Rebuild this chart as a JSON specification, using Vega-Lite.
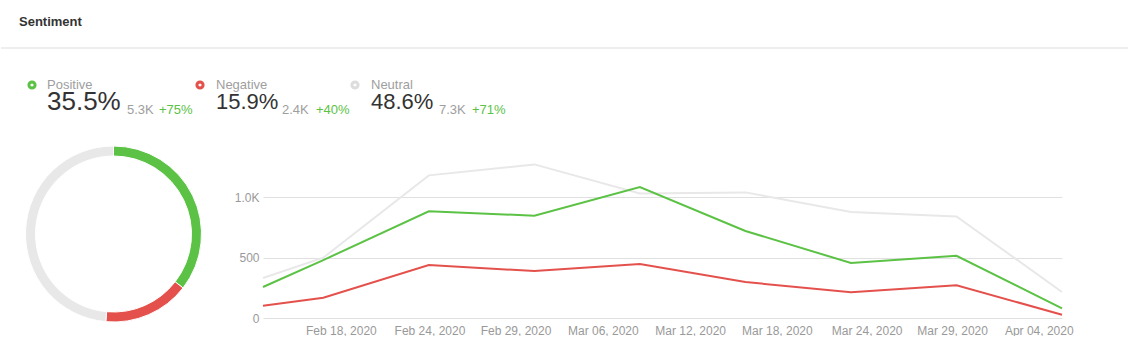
{
  "$schema": "https://vega.github.io/schema/vega-lite/v6.json",
  "padding": 0,
  "background": "#ffffff",
  "spacing": 0,
  "config": {"view": {"stroke": null}, "font": "Liberation Sans"},
  "datasets": {
    "summary": [
      {"sentiment": "Positive", "rank": 1, "pct": 35.5, "share": "35.5%", "count": "5.3K", "change": "+75%"},
      {"sentiment": "Negative", "rank": 2, "pct": 15.9, "share": "15.9%", "count": "2.4K", "change": "+40%"},
      {"sentiment": "Neutral", "rank": 3, "pct": 48.6, "share": "48.6%", "count": "7.3K", "change": "+71%"}
    ],
    "series": [
      {"date": "2020-02-13", "sentiment": "Neutral", "count": 331},
      {"date": "2020-02-17", "sentiment": "Neutral", "count": 500},
      {"date": "2020-02-24", "sentiment": "Neutral", "count": 1182},
      {"date": "2020-03-02", "sentiment": "Neutral", "count": 1273},
      {"date": "2020-03-09", "sentiment": "Neutral", "count": 1032},
      {"date": "2020-03-16", "sentiment": "Neutral", "count": 1041},
      {"date": "2020-03-23", "sentiment": "Neutral", "count": 878},
      {"date": "2020-03-30", "sentiment": "Neutral", "count": 842},
      {"date": "2020-04-06", "sentiment": "Neutral", "count": 215},
      {"date": "2020-02-13", "sentiment": "Positive", "count": 257},
      {"date": "2020-02-17", "sentiment": "Positive", "count": 480},
      {"date": "2020-02-24", "sentiment": "Positive", "count": 884},
      {"date": "2020-03-02", "sentiment": "Positive", "count": 848},
      {"date": "2020-03-09", "sentiment": "Positive", "count": 1085},
      {"date": "2020-03-16", "sentiment": "Positive", "count": 721},
      {"date": "2020-03-23", "sentiment": "Positive", "count": 456},
      {"date": "2020-03-30", "sentiment": "Positive", "count": 516},
      {"date": "2020-04-06", "sentiment": "Positive", "count": 80},
      {"date": "2020-02-13", "sentiment": "Negative", "count": 102},
      {"date": "2020-02-17", "sentiment": "Negative", "count": 168},
      {"date": "2020-02-24", "sentiment": "Negative", "count": 439},
      {"date": "2020-03-02", "sentiment": "Negative", "count": 389},
      {"date": "2020-03-09", "sentiment": "Negative", "count": 447},
      {"date": "2020-03-16", "sentiment": "Negative", "count": 298},
      {"date": "2020-03-23", "sentiment": "Negative", "count": 213},
      {"date": "2020-03-30", "sentiment": "Negative", "count": 271},
      {"date": "2020-04-06", "sentiment": "Negative", "count": 27}
    ]
  },
  "vconcat": [
    {
      "width": 1128,
      "height": 48,
      "data": {"values": [{"title": "Sentiment"}]},
      "layer": [
        {
          "mark": {"type": "text", "align": "left", "baseline": "alphabetic", "x": 18, "y": 26, "fontSize": 13, "fontWeight": "bold", "color": "#333333"},
          "encoding": {"text": {"field": "title"}}
        },
        {
          "mark": {"type": "rule", "color": "#dddddd", "strokeWidth": 1},
          "encoding": {"y": {"datum": 0, "type": "quantitative", "scale": {"domain": [0, 1]}, "axis": null}}
        }
      ]
    },
    {
      "hconcat": [
        {
          "width": 169, "height": 87.5,
          "data": {"name": "summary"},
          "transform": [{"filter": "datum.sentiment === 'Positive'"}],
          "layer": [
            {"mark": {"type": "point", "shape": "circle", "filled": false, "size": 38, "strokeWidth": 3, "color": "#5bc245", "opacity": 1, "x": 31, "y": 36}, "encoding": {}},
            {"mark": {"type": "text", "align": "left", "baseline": "alphabetic", "x": 46, "y": 40, "fontSize": 13, "color": "#9e9e9e"}, "encoding": {"text": {"field": "sentiment"}}},
            {"mark": {"type": "text", "align": "left", "baseline": "alphabetic", "x": 46, "y": 61.3, "fontSize": 26, "color": "#333333"}, "encoding": {"text": {"field": "share"}}},
            {"mark": {"type": "text", "align": "left", "baseline": "alphabetic", "x": 126, "y": 65, "fontSize": 13, "color": "#9e9e9e"}, "encoding": {"text": {"field": "count"}}},
            {"mark": {"type": "text", "align": "left", "baseline": "alphabetic", "x": 158, "y": 65, "fontSize": 13, "color": "#5bc245"}, "encoding": {"text": {"field": "change"}}}
          ]
        },
        {
          "width": 155, "height": 87.5,
          "data": {"name": "summary"},
          "transform": [{"filter": "datum.sentiment === 'Negative'"}],
          "layer": [
            {"mark": {"type": "point", "shape": "circle", "filled": false, "size": 38, "strokeWidth": 3, "color": "#e4514c", "opacity": 1, "x": 30, "y": 36}, "encoding": {}},
            {"mark": {"type": "text", "align": "left", "baseline": "alphabetic", "x": 46, "y": 40, "fontSize": 13, "color": "#9e9e9e"}, "encoding": {"text": {"field": "sentiment"}}},
            {"mark": {"type": "text", "align": "left", "baseline": "alphabetic", "x": 46, "y": 60.3, "fontSize": 22, "color": "#333333"}, "encoding": {"text": {"field": "share"}}},
            {"mark": {"type": "text", "align": "left", "baseline": "alphabetic", "x": 112, "y": 65, "fontSize": 13, "color": "#9e9e9e"}, "encoding": {"text": {"field": "count"}}},
            {"mark": {"type": "text", "align": "left", "baseline": "alphabetic", "x": 146, "y": 65, "fontSize": 13, "color": "#5bc245"}, "encoding": {"text": {"field": "change"}}}
          ]
        },
        {
          "width": 804, "height": 87.5,
          "data": {"name": "summary"},
          "transform": [{"filter": "datum.sentiment === 'Neutral'"}],
          "layer": [
            {"mark": {"type": "point", "shape": "circle", "filled": false, "size": 38, "strokeWidth": 3, "color": "#dddddd", "opacity": 1, "x": 30, "y": 36}, "encoding": {}},
            {"mark": {"type": "text", "align": "left", "baseline": "alphabetic", "x": 46, "y": 40, "fontSize": 13, "color": "#9e9e9e"}, "encoding": {"text": {"field": "sentiment"}}},
            {"mark": {"type": "text", "align": "left", "baseline": "alphabetic", "x": 46, "y": 60.3, "fontSize": 22, "color": "#333333"}, "encoding": {"text": {"field": "share"}}},
            {"mark": {"type": "text", "align": "left", "baseline": "alphabetic", "x": 114, "y": 65, "fontSize": 13, "color": "#9e9e9e"}, "encoding": {"text": {"field": "count"}}},
            {"mark": {"type": "text", "align": "left", "baseline": "alphabetic", "x": 147, "y": 65, "fontSize": 13, "color": "#5bc245"}, "encoding": {"text": {"field": "change"}}}
          ]
        }
      ],
      "spacing": 0,
      "bounds": "flush"
    },
    {
      "hconcat": [
        {
          "width": 225, "height": 194,
          "data": {"name": "summary"},
          "mark": {"type": "arc", "outerRadius": 88, "innerRadius": 78, "stroke": "#ffffff", "strokeWidth": 1},
          "encoding": {
            "theta": {"field": "pct", "type": "quantitative", "stack": true},
            "order": {"field": "rank", "type": "quantitative", "sort": "ascending"},
            "color": {"field": "sentiment", "type": "nominal", "scale": {"domain": ["Positive", "Negative", "Neutral"], "range": ["#5bc245", "#e4514c", "#e8e8e8"]}, "legend": null}
          }
        },
        {
          "width": 799, "height": 181,
          "data": {"name": "series"},
          "mark": {"type": "line", "strokeWidth": 2},
          "encoding": {
            "x": {
              "field": "date", "type": "temporal",
              "scale": {"type": "utc", "nice": false, "domain": [{"year": 2020, "month": 2, "date": 13, "utc": true}, {"year": 2020, "month": 4, "date": 6, "utc": true}]},
              "axis": {
                "title": null, "grid": false, "ticks": false, "domain": false,
                "values": [
                  {"year": 2020, "month": 2, "date": 18, "hours": 4, "utc": true},
                  {"year": 2020, "month": 2, "date": 24, "hours": 1, "utc": true},
                  {"year": 2020, "month": 2, "date": 29, "hours": 18, "utc": true},
                  {"year": 2020, "month": 3, "date": 6, "hours": 13, "utc": true},
                  {"year": 2020, "month": 3, "date": 12, "hours": 8, "utc": true},
                  {"year": 2020, "month": 3, "date": 18, "hours": 2, "utc": true},
                  {"year": 2020, "month": 3, "date": 24, "hours": 1, "utc": true},
                  {"year": 2020, "month": 3, "date": 29, "hours": 17, "utc": true},
                  {"year": 2020, "month": 4, "date": 4, "hours": 11, "utc": true}
                ],
                "labelExpr": "utcFormat(datum.value, '%b %d, %Y')",
                "labelColor": "#999999", "labelFontSize": 12, "labelPadding": 7, "labelFlush": false, "labelOverlap": false
              }
            },
            "y": {
              "field": "count", "type": "quantitative",
              "scale": {"domain": [0, 1500], "nice": false},
              "axis": {
                "title": null, "ticks": false, "domain": false, "values": [0, 500, 1000],
                "gridColor": "#e0e0e0", "labelColor": "#999999", "labelFontSize": 12, "labelPadding": 4,
                "labelExpr": "datum.value >= 1000 ? format(datum.value / 1000, '.1f') + 'K' : format(datum.value, 'd')"
              }
            },
            "color": {"field": "sentiment", "type": "nominal", "scale": {"domain": ["Positive", "Negative", "Neutral"], "range": ["#5bc245", "#e4514c", "#e3e3e3"]}, "legend": null}
          }
        }
      ],
      "spacing": 37,
      "bounds": "flush"
    }
  ]
}
